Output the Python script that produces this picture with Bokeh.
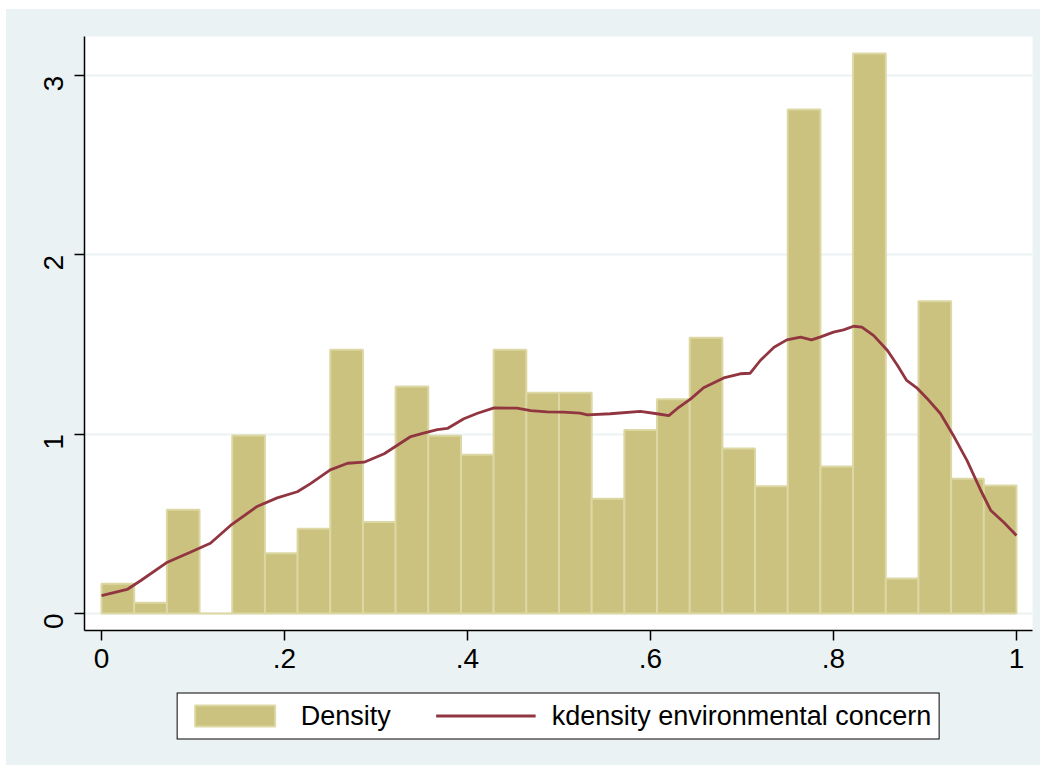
import math
import numpy as np
from bokeh.plotting import figure
from bokeh.layouts import column
from bokeh.models import FixedTicker, Legend, LegendItem, ColumnDataSource, Range1d
from bokeh.embed import file_html
from bokeh.resources import INLINE

# ---- data ----
n_bins = 28
bin_lo, bin_hi = 0.0, 1.0
density = [0.166, 0.060, 0.578, 0.0, 0.993, 0.336, 0.472, 1.471, 0.510, 1.266,
           0.991, 0.885, 1.471, 1.231, 1.231, 0.640, 1.024, 1.195, 1.538, 0.920,
           0.710, 2.811, 0.820, 3.123, 0.195, 1.742, 0.751, 0.714]

kd_x = [0.0, 0.028, 0.043, 0.072, 0.097, 0.119, 0.141, 0.170, 0.192, 0.214,
        0.228, 0.250, 0.269, 0.287, 0.309, 0.338, 0.352, 0.367, 0.378, 0.396,
        0.411, 0.429, 0.454, 0.469, 0.487, 0.505, 0.523, 0.531, 0.556, 0.589,
        0.607, 0.620, 0.629, 0.644, 0.658, 0.680, 0.698, 0.709, 0.720, 0.735,
        0.749, 0.764, 0.776, 0.786, 0.800, 0.811, 0.822, 0.831, 0.844, 0.859,
        0.870, 0.880, 0.891, 0.902, 0.917, 0.931, 0.946, 0.961, 0.972, 0.986, 1.0]
kd_y = [0.100, 0.134, 0.184, 0.286, 0.342, 0.392, 0.491, 0.597, 0.645, 0.679,
        0.723, 0.801, 0.838, 0.844, 0.891, 0.987, 1.006, 1.026, 1.032, 1.086,
        1.117, 1.147, 1.145, 1.132, 1.125, 1.123, 1.117, 1.108, 1.114, 1.127,
        1.114, 1.104, 1.142, 1.197, 1.259, 1.314, 1.337, 1.340, 1.411, 1.485,
        1.526, 1.541, 1.526, 1.543, 1.569, 1.582, 1.602, 1.597, 1.550, 1.467,
        1.383, 1.300, 1.259, 1.201, 1.114, 0.993, 0.853, 0.686, 0.574, 0.509, 0.435]

x_ticks = [0, 0.2, 0.4, 0.6, 0.8, 1.0]
x_tick_labels = ["0", ".2", ".4", ".6", ".8", "1"]
y_ticks = [0, 1, 2, 3]
y_tick_labels = ["0", "1", "2", "3"]

bar_label = "Density"
line_label = "kdensity environmental concern"

# ---- styling ----
BG = "#EAF2F3"
BAR_FILL = "#CAC27E"
BAR_EDGE = "#DCD7A3"
LINE_COL = "#913540"
FONT = "Liberation Sans"
BAR_STYLE = dict(fill_color=BAR_FILL, line_color=BAR_EDGE, line_width=2)
LINE_STYLE = dict(line_color=LINE_COL, line_width=2.8)

edges = np.linspace(bin_lo, bin_hi, n_bins + 1)
bars = ColumnDataSource(dict(left=edges[:-1], right=edges[1:],
                             top=density, bottom=[0] * n_bins))
kd = ColumnDataSource(dict(x=kd_x, y=kd_y))

# ---- main chart ----
p = figure(width=1034, height=671, output_backend="svg", toolbar_location=None,
           x_range=(-0.0186, 1.0175), y_range=(-0.0948, 3.218),
           min_border_left=78, min_border_right=8, min_border_top=27,
           min_border_bottom=50)
p.background_fill_color = "white"
p.border_fill_color = BG
p.outline_line_color = None

p.xgrid.visible = False
p.ygrid.ticker = FixedTicker(ticks=y_ticks)
p.ygrid.grid_line_color = BG
p.ygrid.grid_line_width = 2

p.quad(left="left", right="right", top="top", bottom="bottom", source=bars, **BAR_STYLE)
p.line("x", "y", source=kd, **LINE_STYLE)

for ax in (p.xaxis[0], p.yaxis[0]):
    ax.axis_line_color = "black"
    ax.axis_line_width = 1.5
    ax.major_tick_line_color = "black"
    ax.major_tick_line_width = 1.5
    ax.major_tick_out = 10
    ax.major_tick_in = 0
    ax.minor_tick_line_color = None
    ax.major_label_text_font = FONT
    ax.major_label_text_font_size = "28px"
    ax.major_label_text_color = "black"

p.xaxis.major_label_standoff = 8
p.yaxis.major_label_standoff = 21
p.xaxis.ticker = FixedTicker(ticks=x_ticks)
p.xaxis.major_label_overrides = {t: l for t, l in zip(x_ticks, x_tick_labels)}
p.yaxis.ticker = FixedTicker(ticks=y_ticks)
p.yaxis.major_label_overrides = {t: l for t, l in zip(y_ticks, y_tick_labels)}
p.yaxis.major_label_orientation = math.pi / 2

# ---- legend strip: keys drawn from the same renderers' styles; data kept out of view ----
lg = figure(width=1034, height=85, output_backend="svg", toolbar_location=None,
            x_axis_type=None, y_axis_type=None,
            x_range=Range1d(10, 11), y_range=Range1d(10, 11),
            min_border_left=78, min_border_right=8, min_border_top=0,
            min_border_bottom=14)
lg.background_fill_alpha = 0
lg.border_fill_color = BG
lg.outline_line_color = None
lg.xgrid.visible = False
lg.ygrid.visible = False
k_bar = lg.quad(left="left", right="right", top="top", bottom="bottom", source=bars, **BAR_STYLE)
k_line = lg.line("x", "y", source=kd, **LINE_STYLE)

legend = Legend(items=[LegendItem(label=bar_label, renderers=[k_bar]),
                       LegendItem(label=line_label, renderers=[k_line])],
                orientation="horizontal", location="center")
legend.glyph_width = 100
legend.glyph_height = 26
legend.label_standoff = 16
legend.spacing = 45
legend.padding = 7
legend.margin = 0
legend.label_text_font = FONT
legend.label_text_font_size = "27px"
legend.label_text_color = "black"
legend.border_line_color = "black"
legend.border_line_alpha = 1.0
legend.border_line_width = 1.5
legend.background_fill_color = "white"
legend.background_fill_alpha = 1.0
lg.add_layout(legend, "center")

layout = column(p, lg, spacing=0)
layout.margin = (9, 0, 0, 6)
layout.styles = {"background-color": BG}
open("out.html", "w").write(file_html(layout, INLINE))
